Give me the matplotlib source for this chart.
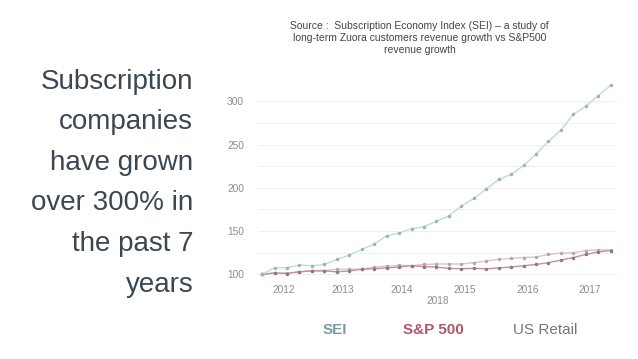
import matplotlib.pyplot as plt

plt.rcParams['font.family'] = ['Liberation Sans', 'DejaVu Sans']

# quarterly index values, start = 100
sei = [100, 107.7, 107.7, 110.8, 110, 111.5, 117.3, 122.3, 128.8, 135,
       144.6, 147.7, 153, 155, 161.5, 167.7, 178.8, 187.7, 198.5, 209.6,
       215.4, 225.8, 238.8, 253.8, 266.5, 285, 294.2, 306.5, 318.5]
us_retail = [100, 102, 101.5, 103, 104.5, 104.5, 106, 106, 106, 108.5,
             109.5, 110.5, 110, 111.5, 112, 112, 112, 113.5, 115.5, 117.5,
             118.5, 119.5, 120, 123, 124.5, 125, 127.5, 128.5, 128]
sp500 = [100, 101.5, 101, 103, 104, 104, 103, 104, 106, 106.5,
         107.5, 108.5, 110, 109, 108.5, 107, 106.5, 107, 106.5, 107.5,
         108.5, 110, 111.5, 113.5, 116.5, 119.5, 123, 126, 127.5]
year_labels = ['2012', '2013', '2014', '2015', '2016', '2017']
year_pos = [1.7, 6.5, 11.2, 16.3, 21.3, 26.3]

x = list(range(len(sei)))

fig = plt.figure(figsize=(6.38, 3.59), dpi=100)
ax = fig.add_axes([0.404, 0.226, 0.563, 0.55])

ax.plot(x, us_retail, color='#dcc4ca', lw=1.0, marker='o', ms=1.5,
        mfc='#b0a8aa', mec='#b0a8aa')
ax.plot(x, sp500, color='#c9909b', lw=1.0, marker='o', ms=1.5,
        mfc='#8a7a7e', mec='#8a7a7e')
ax.plot(x, sei, color='#b8e0d2', lw=1.0, marker='o', ms=1.5,
        mfc='#a8b0ae', mec='#a8b0ae')

ax.set_xlim(-0.35, 28.5)
ax.set_ylim(96, 324)
ax.set_yticks([100, 150, 200, 250, 300])
ax.set_yticks([125, 175, 225, 275], minor=True)
ax.set_xticks(year_pos)
ax.set_xticklabels(year_labels)
ax.grid(True, axis='y', which='both', color='#f0f0f0', lw=0.8)
ax.set_axisbelow(True)
for s in ax.spines.values():
    s.set_visible(False)
ax.tick_params(axis='both', which='both', length=0, labelsize=7.3, labelcolor='#8c8c8c')
ax.tick_params(axis='y', pad=10)
ax.tick_params(axis='x', pad=5)
ax.set_xlabel('2018', fontsize=7.3, color='#8c8c8c', labelpad=1)

fig.text(0.658, 0.894, 'Source :  Subscription Economy Index (SEI) \u2013 a study of\n'
         'long-term Zuora customers revenue growth vs S&P500\nrevenue growth',
         ha='center', va='center', fontsize=7.5, color='#444444', linespacing=1.25)

fig.text(0.303, 0.49, 'Subscription\ncompanies\nhave grown\nover 300% in\nthe past 7\nyears',
         ha='right', va='center', fontsize=20, color='#3d4752', linespacing=1.73)

fig.text(0.525, 0.08, 'SEI', ha='center', va='center', fontsize=11,
         fontweight='bold', color='#7a9aa8')
fig.text(0.68, 0.08, 'S&P 500', ha='center', va='center', fontsize=11,
         fontweight='bold', color='#b05868')
fig.text(0.855, 0.08, 'US Retail', ha='center', va='center', fontsize=11,
         color='#777777')

fig.savefig('out.png', dpi=100)
